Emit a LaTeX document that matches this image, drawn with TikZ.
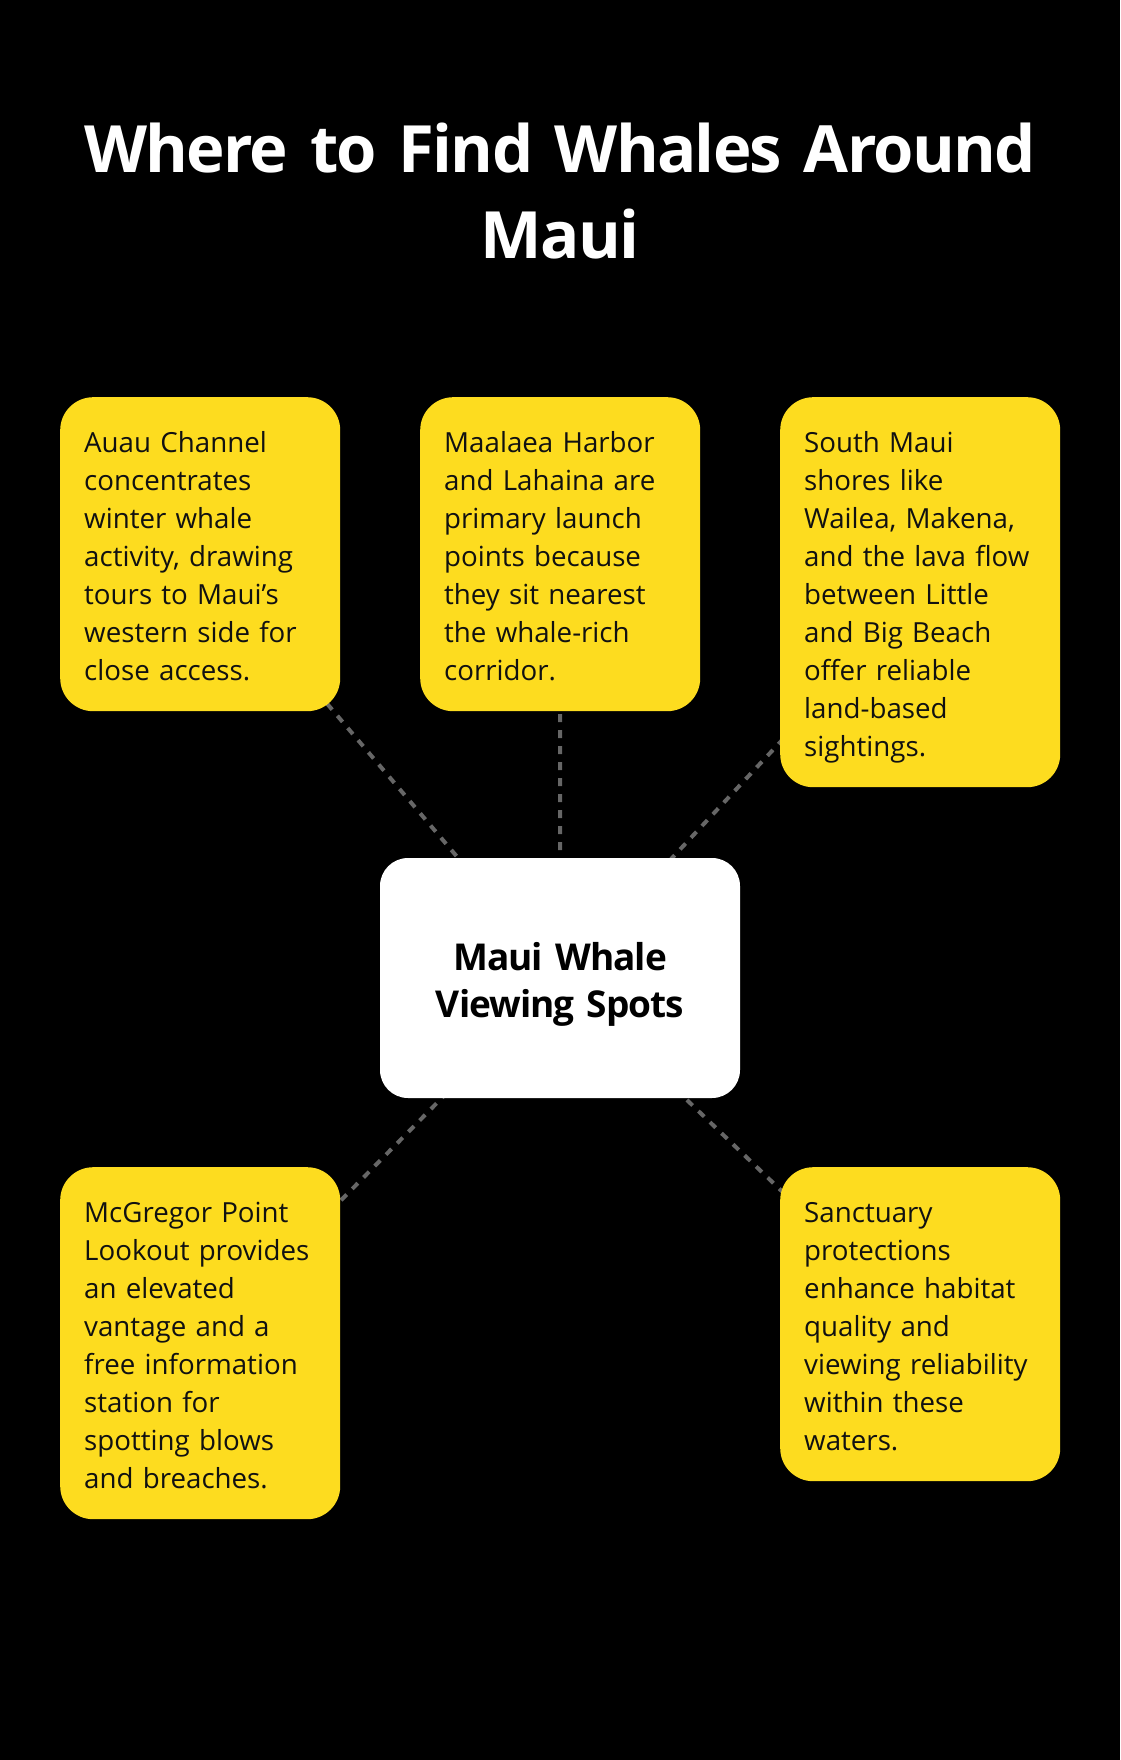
\documentclass[tikz,border=0pt]{standalone}
\usepackage{fontspec}
\setmainfont{Open Sans}[BoldFeatures={LetterSpace=-2.7}]
\usetikzlibrary{backgrounds}
\definecolor{boxyellow}{HTML}{FDDC1F}
\definecolor{linkgray}{HTML}{666666}
\definecolor{inktext}{HTML}{111111}
\newcommand{\firstline}{\rule{0pt}{31pt}}
\newcommand{\lastline}{\rule[-7pt]{0pt}{7pt}}
\begin{document}
\begin{tikzpicture}[x=1pt,y=-1pt,
  infobox/.style={fill=boxyellow, rounded corners=33pt, text width=232pt, inner sep=24pt, align=left, anchor=north west, font=\fontsize{27.7}{38}\selectfont, text=inktext},
  hubbox/.style={fill=white, rounded corners=28pt, text width=360pt, minimum width=360pt, minimum height=240pt, inner sep=0pt, align=center, font=\bfseries\fontsize{37}{47}\selectfont, text=black},
  titletext/.style={text width=1100pt, inner sep=0pt, align=center, anchor=north, font=\bfseries\fontsize{65.2}{86}\selectfont, text=white},
  link/.style={draw=linkgray, line width=4pt, dash pattern=on 8pt off 8pt}]
\useasboundingbox (0,0) rectangle (1120,1760);

\node[titletext] (title) at (560,112) {\rule{0pt}{60pt}Where to Find Whales Around\\Maui};

\node[infobox] (b1) at (60,397) {\firstline Auau Channel\\concentrates\\winter whale\\activity, drawing\\tours to Maui’s\\western side for\\close access.\lastline};
\node[infobox] (b2) at (420,397) {\firstline Maalaea Harbor\\and Lahaina are\\primary launch\\points because\\they sit nearest\\the whale-rich\\corridor.\lastline};
\node[infobox] (b3) at (780,397) {\firstline South Maui\\shores like\\Wailea, Makena,\\and the lava flow\\between Little\\and Big Beach\\offer reliable\\land-based\\sightings.\lastline};
\node[infobox] (b4) at (60,1167) {\firstline McGregor Point\\Lookout provides\\an elevated\\vantage and a\\free information\\station for\\spotting blows\\and breaches.\lastline};
\node[infobox] (b5) at (780,1167) {\firstline Sanctuary\\protections\\enhance habitat\\quality and\\viewing reliability\\within these\\waters.\lastline};

\node[hubbox] (hub) at (560,978) {\rule{0pt}{40.5pt}Maui Whale\\Viewing Spots\rule[-9pt]{0pt}{9pt}};

\begin{scope}[on background layer]
\fill[black] (0,0) rectangle (1120,1760);
\draw[link] (hub.center) -- (b1.center);
\draw[link] (hub.center) -- (b2.center);
\draw[link] (hub.center) -- (b3.center);
\draw[link] (hub.center) -- (b4.center);
\draw[link] (hub.center) -- (b5.center);
\end{scope}
\end{tikzpicture}
\end{document}
